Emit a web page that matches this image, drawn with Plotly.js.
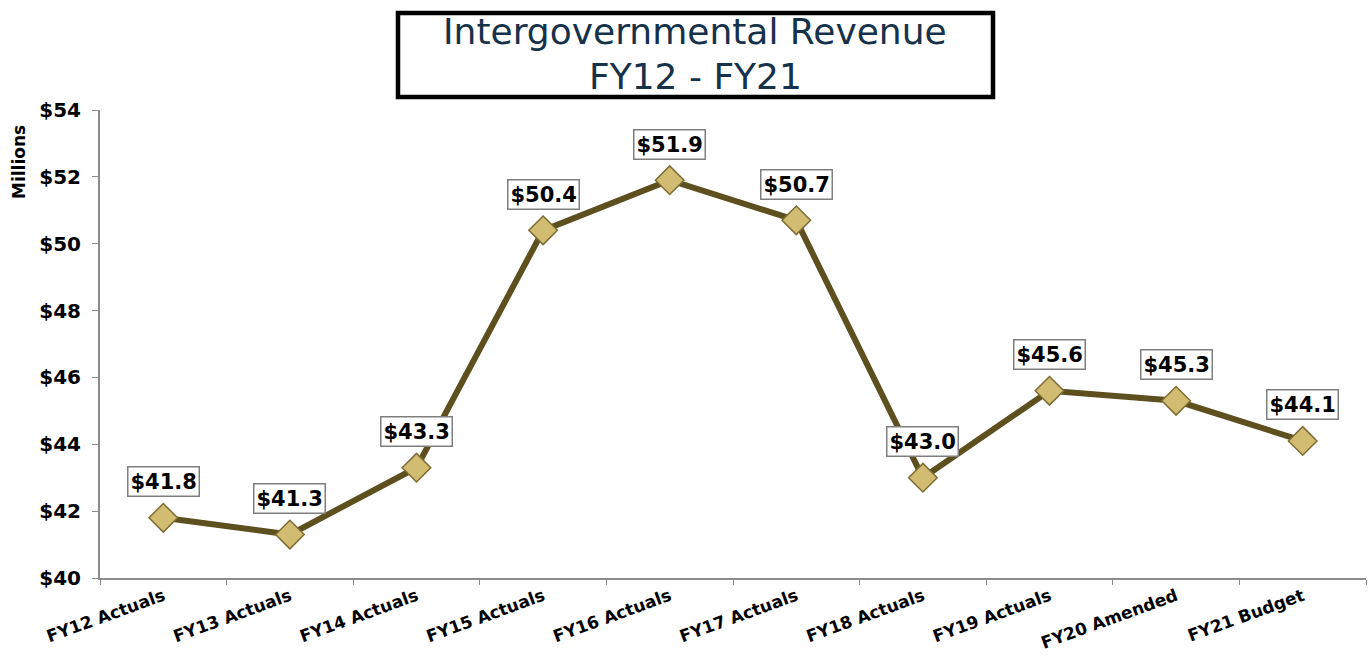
<!DOCTYPE html>
<html>
<head>
<meta charset="utf-8">
<script src="https://cdn.plot.ly/plotly-3.0.1.min.js"></script>
<style>html,body{margin:0;padding:0;background:#fff;}#chart{width:1368px;height:671px;}</style>
</head>
<body>
<div id="chart"></div>
<script>
const categories = ["FY12 Actuals","FY13 Actuals","FY14 Actuals","FY15 Actuals","FY16 Actuals","FY17 Actuals","FY18 Actuals","FY19 Actuals","FY20 Amended","FY21 Budget"];
const revenue = [41.8, 41.3, 43.3, 50.4, 51.9, 50.7, 43.0, 45.6, 45.3, 44.1];
const yTickVals = [40, 42, 44, 46, 48, 50, 52, 54];
const yTickText = ["$40","$42","$44","$46","$48","$50","$52","$54"];
const titleLines = ["Intergovernmental Revenue", "FY12 - FY21"];
const yTitle = "Millions";

const boldFont = "'DejaVu Sans', sans-serif";

const trace = {
  x: categories,
  y: revenue,
  type: 'scatter',
  mode: 'lines+markers',
  line: {color: '#5e4f1f', width: 6},
  marker: {symbol: 'diamond', size: 22, color: '#d2bc72', line: {color: '#7d6c33', width: 1.5}},
  hoverinfo: 'skip',
  cliponaxis: false
};

const annotations = categories.map((c, i) => ({
  x: c, y: revenue[i], xref: 'x', yref: 'y',
  text: '$' + revenue[i].toFixed(1),
  showarrow: false,
  yshift: 36,
  font: {family: boldFont, size: 21, color: '#000', weight: 'bold'},
  bgcolor: '#ffffff',
  bordercolor: '#7f7f7f',
  borderwidth: 1.5,
  borderpad: 2
}));

const titleY = [32, 76];
titleLines.forEach((t, i) => annotations.push({
  xref: 'paper', yref: 'paper',
  x: (695-100)/1266, y: (578-titleY[i])/468,
  xanchor: 'center', yanchor: 'middle',
  text: t,
  showarrow: false,
  font: {family: "'DejaVu Sans', sans-serif", size: 36, color: '#16324a'}
}));

annotations.push({
  xref: 'paper', yref: 'paper',
  x: (19-100)/1266, y: (578-162)/468,
  xanchor: 'center', yanchor: 'middle',
  text: yTitle, textangle: -90,
  showarrow: false,
  font: {family: boldFont, size: 17, color: '#000', weight: 'bold'}
});

const layout = {
  width: 1368, height: 671,
  margin: {l: 100, r: 2, t: 110, b: 93},
  paper_bgcolor: '#ffffff',
  plot_bgcolor: '#ffffff',
  showlegend: false,
  xaxis: {
    type: 'category',
    range: [-0.5, 9.5],
    showgrid: false,
    zeroline: false,
    showline: true, linecolor: '#8c8c8c', linewidth: 2,
    ticks: 'outside', tickson: 'boundaries', ticklen: 5, tickcolor: '#8c8c8c', tickwidth: 1,
    tickangle: -20,
    tickfont: {family: boldFont, size: 17, color: '#000', weight: 'bold'}
  },
  yaxis: {
    range: [40, 54],
    tickvals: yTickVals, ticktext: yTickText,
    showgrid: false, zeroline: false,
    showline: true, linecolor: '#8c8c8c', linewidth: 2,
    ticks: 'outside', ticklen: 6, tickcolor: '#8c8c8c', tickwidth: 1,
    ticklabelstandoff: 7,
    tickfont: {family: boldFont, size: 20, color: '#000', weight: 'bold'}
  },
  shapes: [{
    type: 'rect', xref: 'paper', yref: 'paper',
    x0: (398-100)/1266, x1: (993-100)/1266,
    y0: (578-97)/468, y1: (578-13)/468,
    line: {color: '#000', width: 4.5}, fillcolor: 'rgba(0,0,0,0)', layer: 'below'
  }],
  annotations: annotations
};

Plotly.newPlot('chart', [trace], layout, {displayModeBar: false, staticPlot: true});
</script>
</body>
</html>
